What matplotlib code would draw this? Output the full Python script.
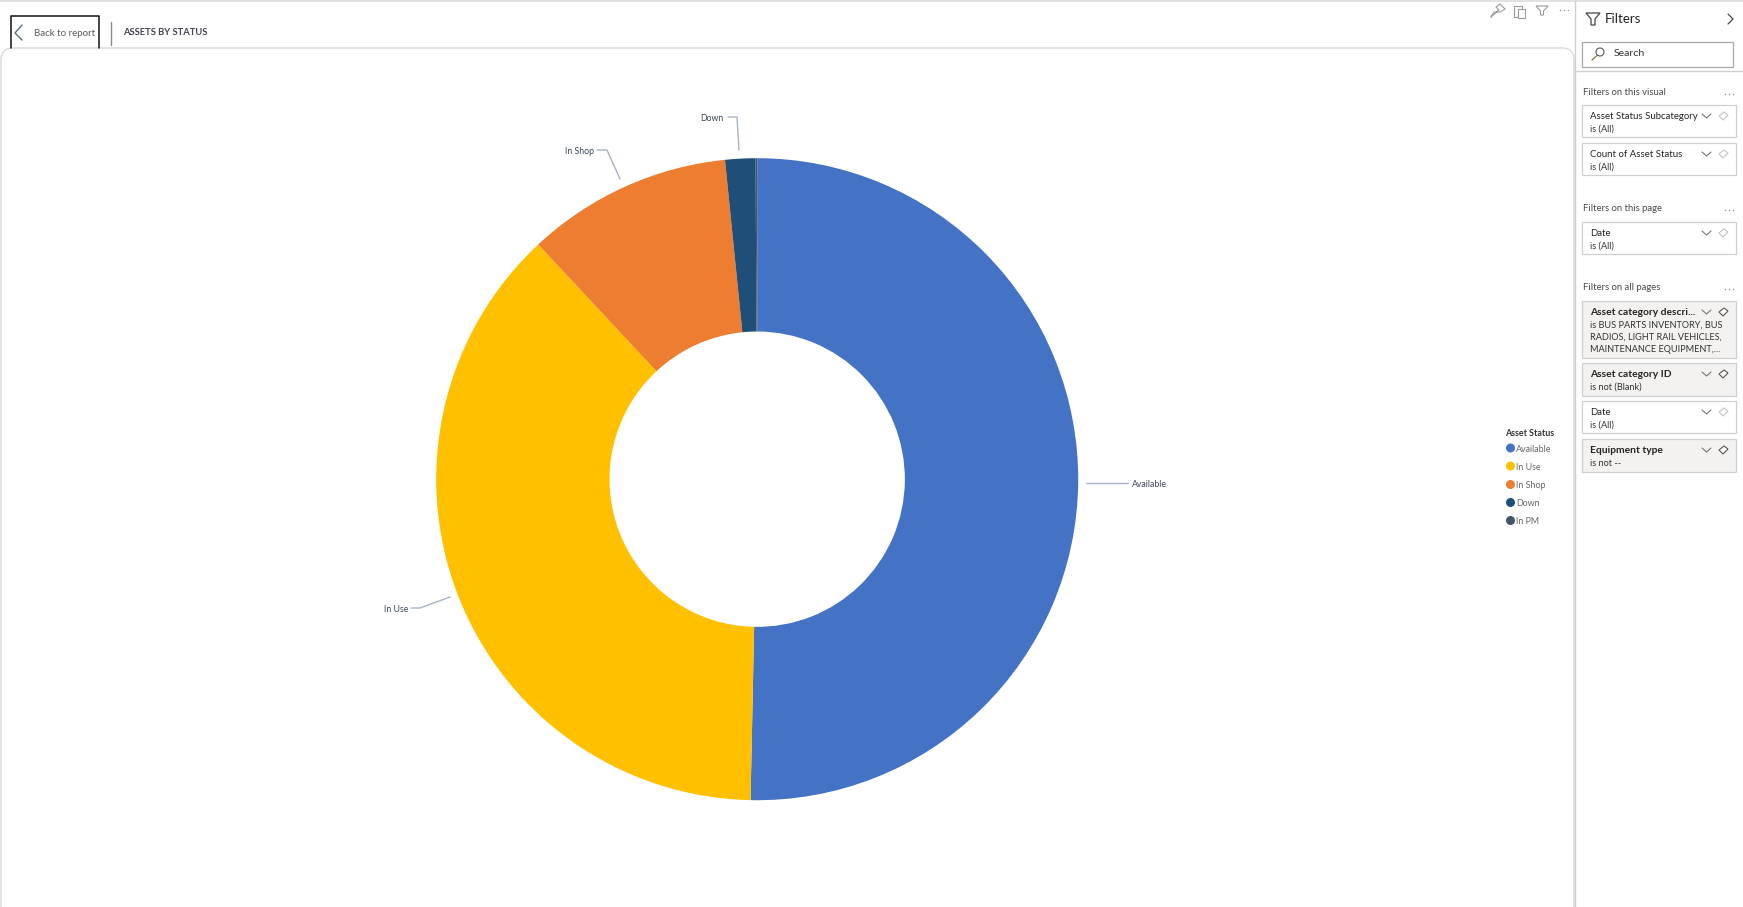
import matplotlib
matplotlib.use("Agg")
import matplotlib.pyplot as plt
from matplotlib.patches import Rectangle, FancyBboxPatch, Circle, Polygon

plt.rcParams['font.family'] = ['Lato', 'DejaVu Sans']

# chart data (share of assets, %)
statuses = ['Available', 'In Use', 'In Shop', 'Down', 'In PM']
shares = [50.33, 37.72, 10.35, 1.52, 0.08]
colors = ['#4472C4', '#FFC000', '#ED7D31', '#1F4E79', '#44546A']

# filter pane text
visual_filters = [('Asset Status Subcategory', 'is (All)'), ('Count of Asset Status', 'is (All)')]
page_filters = [('Date', 'is (All)')]
all_page_filters = [
    ('Asset category descri...', ['is BUS PARTS INVENTORY, BUS', 'RADIOS, LIGHT RAIL VEHICLES,', 'MAINTENANCE EQUIPMENT,...'], True),
    ('Asset category ID', ['is not (Blank)'], True),
    ('Date', ['is (All)'], False),
    ('Equipment type', ['is not --'], True),
]

W, H = 1743, 907
TEXT = '#3b3a39'
BORDER = '#cfcfcf'

fig = plt.figure(figsize=(W / 100, H / 100), dpi=100, facecolor='white')

# page overlay in pixel coordinates
ax = fig.add_axes([0, 0, 1, 1], zorder=1)
ax.set_xlim(0, W)
ax.set_ylim(H, 0)
ax.axis('off')
ax.patch.set_alpha(0)

# donut
cx, cy, r = 757.2, 479.2, 321
pie_ax = fig.add_axes([(cx - r) / W, 1 - (cy + r) / H, 2 * r / W, 2 * r / H], zorder=2)
pie_ax.pie(shares, colors=colors, startangle=90, counterclock=False, radius=1,
           wedgeprops=dict(width=0.54, linewidth=0))
pie_ax.set_xlim(-1, 1)
pie_ax.set_ylim(-1, 1)
pie_ax.axis('off')


def txt(x, y, s, size=8.5, color=TEXT, ha='left', weight='normal'):
    ax.text(x, y + 0.5, s, fontsize=size * 0.72, color=color, ha=ha, va='center', fontweight=weight)


def line(xs, ys, color=TEXT, lw=0.8):
    ax.plot(xs, ys, color=color, lw=lw, solid_capstyle='round')


def dots(x, y, color='#999999'):
    ax.plot([x - 4, x, x + 4], [y, y, y], ls='none', marker='o', ms=1.1, mew=0, color=color)


# top strip and report header
ax.add_patch(Rectangle((0, 0), W, 1.5, fc='#e1e1e1', ec='none'))
ax.add_patch(FancyBboxPatch((1, 48), 1573, 900, boxstyle='round,pad=0,rounding_size=12',
                            fc='white', ec='#d5dada', lw=1))
line([11, 11, 99, 99], [48, 16, 16, 48], color='#111111', lw=1.1)
line([22, 15, 22], [25, 33, 40], color='#5f6b80', lw=1)
txt(34.5, 32.5, 'Back to report', size=9.8, color='#5b5b5b')
line([111, 111], [22, 45], color='#8a8a8a', lw=1)
txt(123.5, 32, 'ASSETS BY STATUS', size=9.4, color='#44444f', weight='bold')

# visual header icons
ICON = '#9a9a9a'
line([1491, 1499, 1496, 1500, 1505, 1500, 1494, 1491], [17, 10, 7, 4, 9, 12, 12, 17], color=ICON)
ax.add_patch(Rectangle((1514, 6), 8, 11, fc='white', ec=ICON, lw=0.8))
ax.add_patch(Rectangle((1518, 9), 7, 9, fc='white', ec=ICON, lw=0.8))
ax.add_patch(Polygon([(1536, 6), (1548, 6), (1543.5, 11), (1543.5, 15), (1540.5, 15), (1540.5, 11)], fc='white', ec=ICON, lw=0.8))
dots(1564, 10, color=ICON)

# data labels with leader lines
LEADER = '#a9b1cc'
labels = [
    ('Available', [1086, 1128], [483, 483], 1132, 484, 'left'),
    ('In Use', [450, 420, 411], [597, 608, 608], 408, 609, 'right'),
    ('In Shop', [620, 607, 597], [179, 150, 150], 594, 151, 'right'),
    ('Down', [739, 737, 728], [150, 117, 117], 724, 118, 'right'),
]
for name, xs, ys, tx, ty, ha in labels:
    line(xs, ys, color=LEADER, lw=1)
    txt(tx, ty, name, size=8.8, color='#3d4660', ha=ha)

# legend
txt(1505.5, 433.5, 'Asset Status', size=8.9, color='#333333', weight='bold')
for name, c, y in zip(statuses, colors, [448, 466, 484.5, 502.5, 520.5]):
    ax.add_patch(Circle((1510.5, y), 4.5, fc=c, ec='none'))
    txt(1516, y + 0.5, name, size=8.9, color='#666666')

# filter pane
line([1575, 1575], [1, H], color=BORDER, lw=1)
line([1575, W], [71, 71], color=BORDER, lw=1)
ax.add_patch(Polygon([(1586, 13), (1600, 13), (1595, 19), (1595, 25), (1591, 25), (1591, 19)], fc='white', ec='#444444', lw=0.9))
txt(1605, 18.5, 'Filters', size=13.2, color='#252423')
line([1728, 1733, 1728], [14, 19, 24], color='#444444', lw=0.9)
ax.add_patch(Rectangle((1582, 42), 151, 25, fc='white', ec='#a8a8a8', lw=0.9))
ax.add_patch(Circle((1600, 52), 4, fc='white', ec='#555555', lw=0.8))
line([1597, 1592], [55.5, 60], color='#a0703a', lw=0.9)
txt(1614, 53, 'Search', size=10.5, color='#333333')


def heading(y, s):
    txt(1583, y, s, size=9.5, color='#4a4a4a')
    dots(1729, y + 2)


def card(y0, y1, title, lines, bold=False):
    ax.add_patch(Rectangle((1582.5, y0), 154, y1 - y0, fc='#f3f2f1' if bold else 'white', ec=BORDER, lw=0.9))
    txt(1590, y0 + 11, title, size=10.2 if bold else 9.6, color='#252423', weight='bold' if bold else 'normal')
    for i, s in enumerate(lines):
        txt(1590, y0 + 23.5 + i * 12.2, s, size=9.1, color='#333333')
    # chevron and eraser icons
    line([1702, 1706.5, 1711], [y0 + 9, y0 + 13, y0 + 9], color='#777777')
    ec = '#555555' if bold else '#c4c4c4'
    ax.add_patch(Polygon([(1719, y0 + 11), (1724, y0 + 7), (1728, y0 + 10), (1723, y0 + 15)], fc='white', ec=ec, lw=0.8))


heading(92, 'Filters on this visual')
for (title, sub), (y0, y1) in zip(visual_filters, [(105, 137), (143, 175)]):
    card(y0, y1, title, [sub])

heading(208, 'Filters on this page')
for (title, sub), (y0, y1) in zip(page_filters, [(222, 254)]):
    card(y0, y1, title, [sub])

heading(287, 'Filters on all pages')
for (title, subs, bold), (y0, y1) in zip(all_page_filters, [(301, 358), (363, 396), (401, 433), (439, 472)]):
    card(y0, y1, title, subs, bold)

fig.savefig('out.png', dpi=100, facecolor='white')
plt.close(fig)
